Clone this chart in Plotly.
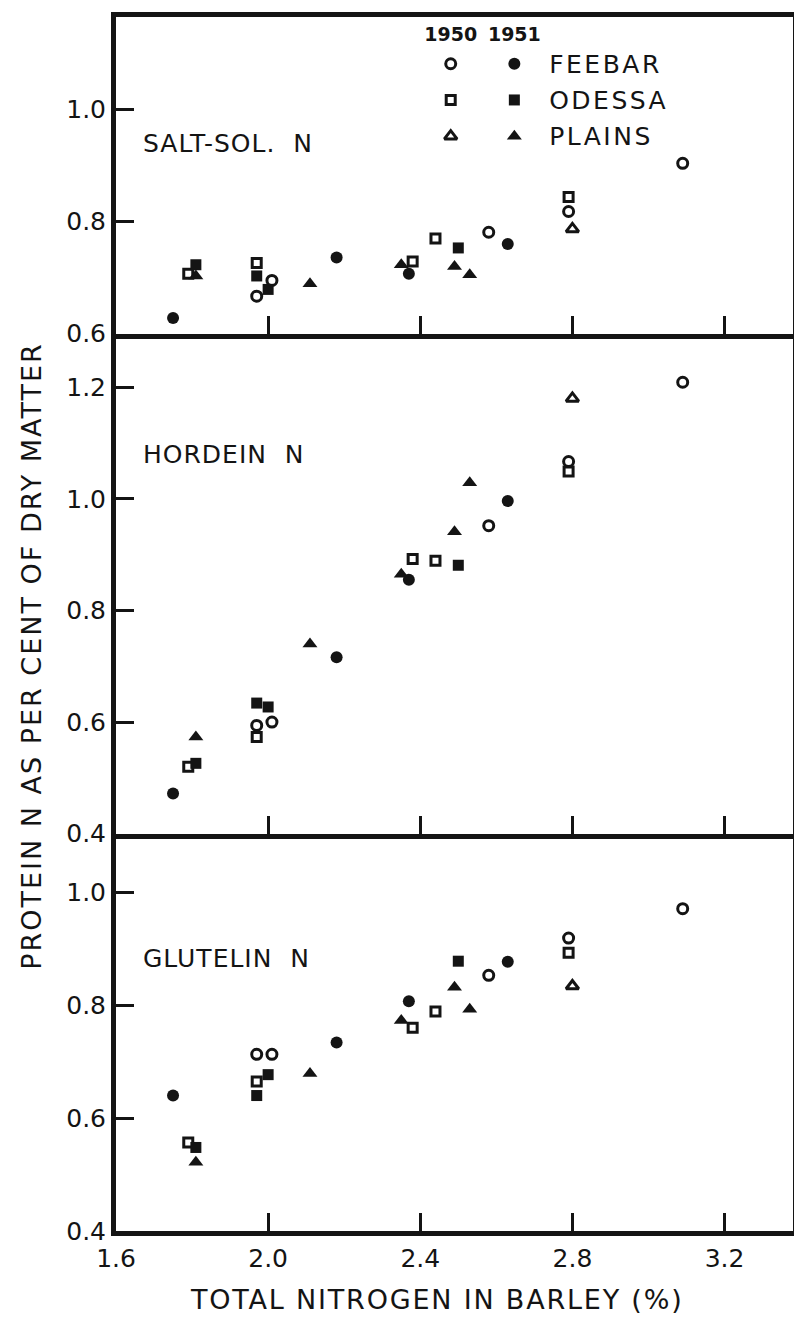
import plotly.graph_objects as go
from plotly.subplots import make_subplots

# ---------------- data ----------------
VARIETIES = ["FEEBAR", "ODESSA", "PLAINS"]
YEARS = ["1950", "1951"]
PANEL_NAMES = ["SALT-SOL.\u00a0\u00a0N", "HORDEIN\u00a0\u00a0N", "GLUTELIN\u00a0\u00a0N"]

X_TICKS = [1.6, 2.0, 2.4, 2.8, 3.2]
SALT_Y_TICKS = [0.6, 0.8, 1.0]
HORDEIN_Y_TICKS = [0.4, 0.6, 0.8, 1.0, 1.2]
GLUTELIN_Y_TICKS = [0.4, 0.6, 0.8, 1.0]

# total nitrogen in barley (%)
FEEBAR_1950_N = [1.97, 2.01, 2.58, 2.79, 3.09]
FEEBAR_1951_N = [1.75, 2.18, 2.37, 2.63]
ODESSA_1950_N = [1.79, 1.97, 2.38, 2.44, 2.79]
ODESSA_1951_N = [1.81, 1.97, 2.00, 2.50]
PLAINS_1950_N = [2.80]
PLAINS_1951_N = [1.81, 2.11, 2.35, 2.49, 2.53]

# salt-soluble N
SALT_FEEBAR_1950 = [0.667, 0.695, 0.781, 0.818, 0.904]
SALT_FEEBAR_1951 = [0.628, 0.736, 0.707, 0.760]
SALT_ODESSA_1950 = [0.707, 0.726, 0.729, 0.770, 0.844]
SALT_ODESSA_1951 = [0.723, 0.703, 0.679, 0.753]
SALT_PLAINS_1950 = [0.787]
SALT_PLAINS_1951 = [0.703, 0.689, 0.723, 0.720, 0.705]

# hordein N
HORDEIN_FEEBAR_1950 = [0.594, 0.600, 0.952, 1.067, 1.209]
HORDEIN_FEEBAR_1951 = [0.472, 0.716, 0.855, 0.996]
HORDEIN_ODESSA_1950 = [0.520, 0.573, 0.892, 0.889, 1.049]
HORDEIN_ODESSA_1951 = [0.526, 0.634, 0.627, 0.881]
HORDEIN_PLAINS_1950 = [1.180]
HORDEIN_PLAINS_1951 = [0.573, 0.740, 0.865, 0.941, 1.029]

# glutelin N
GLUTELIN_FEEBAR_1950 = [0.713, 0.713, 0.853, 0.919, 0.971]
GLUTELIN_FEEBAR_1951 = [0.640, 0.734, 0.807, 0.877]
GLUTELIN_ODESSA_1950 = [0.557, 0.665, 0.760, 0.789, 0.893]
GLUTELIN_ODESSA_1951 = [0.548, 0.640, 0.677, 0.878]
GLUTELIN_PLAINS_1950 = [0.834]
GLUTELIN_PLAINS_1951 = [0.522, 0.679, 0.773, 0.832, 0.793]

# ---------------- assembling ----------------
TOTAL_N = {
    ("FEEBAR", "1950"): FEEBAR_1950_N, ("FEEBAR", "1951"): FEEBAR_1951_N,
    ("ODESSA", "1950"): ODESSA_1950_N, ("ODESSA", "1951"): ODESSA_1951_N,
    ("PLAINS", "1950"): PLAINS_1950_N, ("PLAINS", "1951"): PLAINS_1951_N,
}
PANELS = [
    {("FEEBAR", "1950"): SALT_FEEBAR_1950, ("FEEBAR", "1951"): SALT_FEEBAR_1951,
     ("ODESSA", "1950"): SALT_ODESSA_1950, ("ODESSA", "1951"): SALT_ODESSA_1951,
     ("PLAINS", "1950"): SALT_PLAINS_1950, ("PLAINS", "1951"): SALT_PLAINS_1951},
    {("FEEBAR", "1950"): HORDEIN_FEEBAR_1950, ("FEEBAR", "1951"): HORDEIN_FEEBAR_1951,
     ("ODESSA", "1950"): HORDEIN_ODESSA_1950, ("ODESSA", "1951"): HORDEIN_ODESSA_1951,
     ("PLAINS", "1950"): HORDEIN_PLAINS_1950, ("PLAINS", "1951"): HORDEIN_PLAINS_1951},
    {("FEEBAR", "1950"): GLUTELIN_FEEBAR_1950, ("FEEBAR", "1951"): GLUTELIN_FEEBAR_1951,
     ("ODESSA", "1950"): GLUTELIN_ODESSA_1950, ("ODESSA", "1951"): GLUTELIN_ODESSA_1951,
     ("PLAINS", "1950"): GLUTELIN_PLAINS_1950, ("PLAINS", "1951"): GLUTELIN_PLAINS_1951},
]
Y_TICKS = [SALT_Y_TICKS, HORDEIN_Y_TICKS, GLUTELIN_Y_TICKS]
Y_RANGES = [[0.6, 1.165], [0.4, 1.296], [0.4, 1.104]]
X_RANGE = [1.6, 3.38]

INK = "#141414"
FONT = "DejaVu Sans"

MARKERS = {
    ("FEEBAR", "1950"): dict(symbol="circle-open", size=10, line=dict(width=3, color=INK), color=INK),
    ("FEEBAR", "1951"): dict(symbol="circle", size=12, color=INK, line=dict(width=0)),
    ("ODESSA", "1950"): dict(symbol="square-open", size=9, line=dict(width=3, color=INK), color=INK),
    ("ODESSA", "1951"): dict(symbol="square", size=11, color=INK, line=dict(width=0)),
    ("PLAINS", "1950"): dict(symbol="triangle-up-open", size=11, line=dict(width=3, color=INK), color=INK),
    ("PLAINS", "1951"): dict(symbol="triangle-up", size=13, color=INK, line=dict(width=0)),
}

# page is rendered inside the browser's default 8px body margin
PAGE_OFF = 8
W, H = 802 - PAGE_OFF, 1317 - PAGE_OFF
ML, MT = 116 - PAGE_OFF, 12 - PAGE_OFF
MR, MB = 5, 86
PW, PH = W - ML - MR, H - MT - MB
ROW_PX = [318, 502, 399]

fig = make_subplots(rows=3, cols=1, shared_xaxes=True, vertical_spacing=0,
                    row_heights=[r / sum(ROW_PX) for r in ROW_PX])

for i, panel in enumerate(PANELS):
    for v in VARIETIES:
        for yr in YEARS:
            fig.add_trace(go.Scatter(
                x=TOTAL_N[(v, yr)], y=panel[(v, yr)], mode="markers",
                marker=MARKERS[(v, yr)], showlegend=False, name=f"{v} {yr}",
                cliponaxis=False), row=i + 1, col=1)

# legend as a small categorical grid (years x varieties)
for v in VARIETIES:
    for yr in YEARS:
        fig.add_trace(go.Scatter(x=[yr], y=[v], mode="markers", marker=MARKERS[(v, yr)],
                                 showlegend=False, xaxis="x4", yaxis="y4", cliponaxis=False))


def px_x(p):
    """page x pixel -> paper fraction"""
    return (p - PAGE_OFF - ML) / PW


def px_y(p):
    """page y pixel -> paper fraction"""
    return 1 - (p - PAGE_OFF - MT) / PH


def spaced(text, px):
    return f'<span style="letter-spacing:{px}px">{text}</span>'


axis_common = dict(showline=True, linewidth=5, linecolor=INK, ticks="inside",
                   ticklen=18, tickwidth=3, tickcolor=INK, showgrid=False, zeroline=False)

for i in range(3):
    xa = "xaxis" if i == 0 else f"xaxis{i + 1}"
    ya = "yaxis" if i == 0 else f"yaxis{i + 1}"
    fig.layout[xa].update(range=X_RANGE, tickvals=X_TICKS, tickformat=".1f",
                          showticklabels=(i == 2), mirror=(i == 0),
                          tickfont=dict(family=FONT, size=25, color=INK),
                          ticklabelstandoff=1, **axis_common)
    fig.layout[ya].update(range=Y_RANGES[i], tickvals=Y_TICKS[i], tickformat=".1f",
                          mirror=True, tickfont=dict(family=FONT, size=25, color=INK),
                          ticklabelstandoff=0, **axis_common)

fig.update_layout(
    xaxis4=dict(domain=[px_x(420.7), px_x(548.7)], anchor="y4", type="category",
                categoryorder="array", categoryarray=YEARS, range=[-0.5, 1.5],
                side="top", showline=False, showgrid=False, zeroline=False, ticks="",
                tickfont=dict(family=FONT, size=19, color=INK, weight="bold"),
                ticklabelstandoff=0),
    yaxis4=dict(domain=[px_y(149.8), px_y(40.8)], anchor="x4", type="category",
                categoryorder="array", categoryarray=VARIETIES, range=[2.5, -0.5],
                side="right", showline=False, showgrid=False, zeroline=False, ticks="",
                tickmode="array", tickvals=VARIETIES,
                ticktext=[spaced(v, 2.5) for v in VARIETIES],
                tickfont=dict(family=FONT, size=25, color=INK), ticklabelstandoff=2),
)

LABEL_Y_PX = [139, 451, 957]
annotations = []
for name, ypx in zip(PANEL_NAMES, LABEL_Y_PX):
    annotations.append(dict(text=spaced(name, 1), xref="paper", yref="paper",
                            x=px_x(141), y=px_y(ypx),
                            xanchor="left", yanchor="middle", showarrow=False,
                            font=dict(family=FONT, size=25, color=INK)))
annotations.append(dict(text=spaced("TOTAL NITROGEN IN BARLEY (%)", 1.8), xref="paper",
                        yref="paper", x=px_x(438.5), y=px_y(1300), xanchor="center",
                        yanchor="middle", showarrow=False,
                        font=dict(family=FONT, size=27, color=INK)))
annotations.append(dict(text=spaced("PROTEIN N AS PER CENT OF DRY MATTER", 2), xref="paper",
                        yref="paper", x=px_x(31), y=px_y(653), xanchor="center",
                        yanchor="middle", textangle=-90, showarrow=False,
                        font=dict(family=FONT, size=27, color=INK)))

fig.update_layout(width=W, height=H, margin=dict(l=ML, r=MR, t=MT, b=MB),
                  paper_bgcolor="white", plot_bgcolor="white", showlegend=False,
                  annotations=annotations, font=dict(family=FONT, color=INK))

fig.write_html("out.html")
